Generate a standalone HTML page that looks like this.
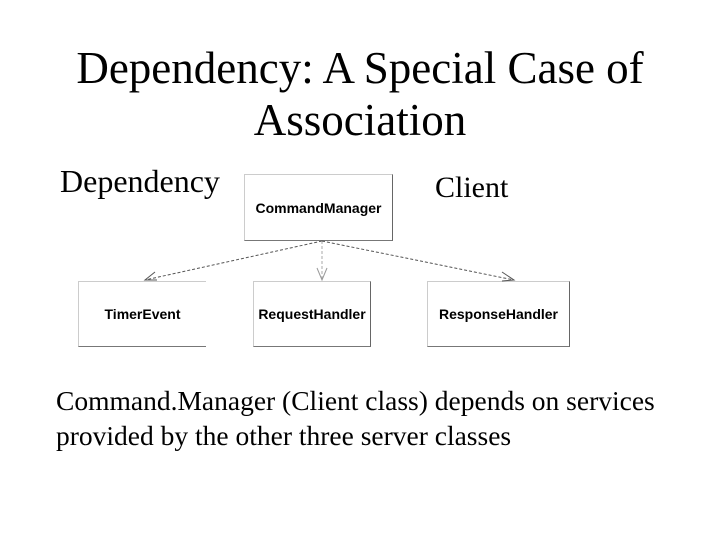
<!DOCTYPE html>
<html><head><style>
body{margin:0;width:720px;height:540px;background:#fff;position:relative;overflow:hidden;font-family:"Liberation Serif",serif;}
.t{position:absolute;color:#000;white-space:nowrap;}
.b{position:absolute;box-sizing:border-box;border:1px solid #ccc;border-right:1.5px solid #666;border-bottom:1.5px solid #777;font-family:"Liberation Sans",sans-serif;font-weight:bold;font-size:14px;display:flex;align-items:center;justify-content:center;}
</style></head><body>
<div class="t" style="left:0;width:720px;top:42px;text-align:center;font-size:45px;line-height:52px;">Dependency: A Special Case of<br>Association</div>
<div class="t" style="left:60px;top:163px;font-size:32px;">Dependency</div>
<div class="t" style="left:435px;top:171px;font-size:30px;">Client</div>
<div class="b" style="left:244px;top:174px;width:149px;height:67px;">CommandManager</div>
<div class="b" style="left:78px;top:281px;width:128px;height:66px;border-right:none;">TimerEvent</div>
<div class="b" style="left:253px;top:281px;width:118px;height:66px;">RequestHandler</div>
<div class="b" style="left:427px;top:281px;width:143px;height:66px;">ResponseHandler</div>
<svg style="position:absolute;left:0;top:0" width="720" height="540">
<g stroke="#555" stroke-width="1" fill="none">
<line x1="322" y1="241" x2="145" y2="280" stroke-dasharray="3,2"/>
<line x1="322" y1="241" x2="322" y2="280" stroke-dasharray="3,2" stroke="#aaa"/>
<line x1="322" y1="241" x2="514" y2="280" stroke-dasharray="3,2"/>
<polyline points="155,272 145,280 157,280"/>
<polyline points="317,268 322,280 327,268" stroke="#999"/>
<polyline points="502,272 514,280 502,281"/>
</g></svg>
<div class="t" style="left:56px;top:383px;font-size:27.5px;line-height:35px;">Command.Manager (Client class) depends on services<br>provided by the other three server classes</div>
</body></html>
